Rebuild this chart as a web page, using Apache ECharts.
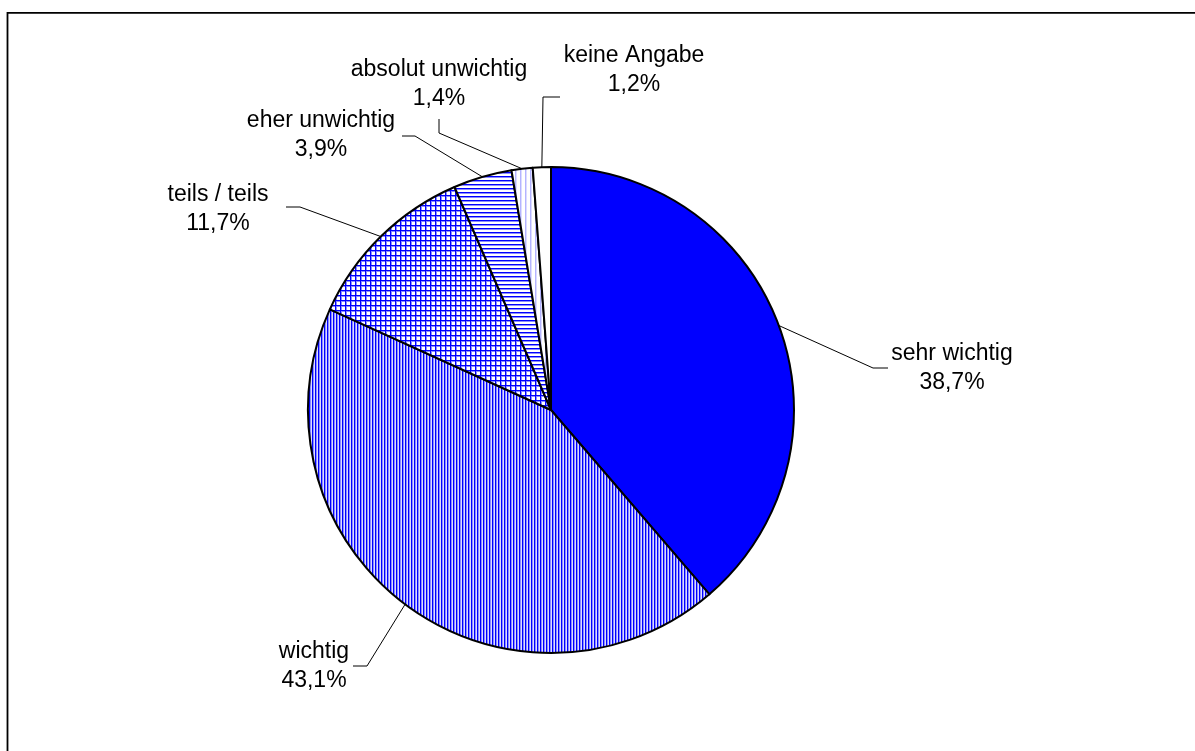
<!DOCTYPE html>
<html>
<head>
<meta charset="utf-8">
<script src="https://cdn.jsdelivr.net/npm/echarts@6/dist/echarts.min.js"></script>
<style>
html,body{margin:0;padding:0;background:#fff;}
#chart{width:1195px;height:751px;}
</style>
</head>
<body>
<div id="chart"></div>
<script>
// ---- data ----
const categories = ['sehr wichtig', 'wichtig', 'teils / teils', 'eher unwichtig', 'absolut unwichtig', 'keine Angabe'];
const values = [38.7, 43.1, 11.7, 3.9, 1.4, 1.2];
const valueLabels = ['38,7%', '43,1%', '11,7%', '3,9%', '1,4%', '1,2%'];

// ---- label placement (text annotations) ----
const labelCenters = [[952, 368], [314, 666], [218, 209], [321, 135], [439, 84], [634, 70]];
const lineElbows = [[873, 368], [367, 666], [300, 207], [415, 136], [439, 133], [543, 97]];
const lineEnds = [[888, 368], [353, 666], [286, 207], [402, 136], [439, 119], [560, 97]];

function makePattern(w, h, draw) {
  const c = document.createElement('canvas');
  c.width = w; c.height = h;
  const ctx = c.getContext('2d');
  ctx.fillStyle = '#ffffff';
  ctx.fillRect(0, 0, w, h);
  draw(ctx);
  return { image: c, repeat: 'repeat' };
}
const BLUE = '#0000ff';
const LIGHT = '#8c8cff';
const PALE = '#dcdcff';
const patVertical = makePattern(3, 3, ctx => {
  ctx.fillStyle = BLUE; ctx.fillRect(0, 0, 1, 3);
  ctx.fillStyle = LIGHT; ctx.fillRect(1, 0, 1, 3);
  ctx.fillStyle = PALE; ctx.fillRect(2, 0, 1, 3);
});
const patGrid = makePattern(5, 5, ctx => {
  ctx.fillStyle = LIGHT; ctx.fillRect(1, 0, 1, 5); ctx.fillRect(0, 1, 5, 1);
  ctx.fillStyle = BLUE; ctx.fillRect(0, 0, 1, 5); ctx.fillRect(0, 0, 5, 1);
});
const patHorizontal = makePattern(4, 4, ctx => {
  ctx.fillStyle = BLUE; ctx.fillRect(0, 0, 4, 1);
  ctx.fillStyle = LIGHT; ctx.fillRect(0, 1, 4, 1);
});
const patLightVertical = makePattern(5, 5, ctx => {
  ctx.fillStyle = '#b4b4ff'; ctx.fillRect(0, 0, 1, 5);
  ctx.fillStyle = '#dcdcff'; ctx.fillRect(1, 0, 1, 5);
});
const fills = [BLUE, patVertical, patGrid, patHorizontal, patLightVertical, '#ffffff'];

const chart = echarts.init(document.getElementById('chart'), null, { renderer: 'canvas' });
chart.setOption({
  animation: false,
  backgroundColor: '#ffffff',
  graphic: [{
    type: 'rect',
    shape: { x: 7.5, y: 12.8, width: 1300, height: 900 },
    style: { fill: 'none', stroke: '#000', lineWidth: 1.8 },
    silent: true
  }],
  series: [{
    type: 'pie',
    center: [551, 410],
    radius: 243,
    startAngle: 90,
    clockwise: true,
    avoidLabelOverlap: false,
    data: categories.map((n, i) => ({
      name: n,
      value: values[i],
      itemStyle: { color: fills[i] }
    })),
    itemStyle: { borderColor: '#000', borderWidth: 2 },
    label: {
      show: true,
      position: 'outside',
      formatter: p => p.name + '\n' + valueLabels[p.dataIndex],
      fontFamily: '"Liberation Sans", Arial, sans-serif',
      fontSize: 23,
      lineHeight: 28.5,
      color: '#000',
      align: 'center'
    },
    labelLine: {
      show: true,
      length: 20,
      length2: 15,
      lineStyle: { color: '#000', width: 1 }
    },
    labelLayout: function (params) {
      const i = params.dataIndex;
      const pts = params.labelLinePoints;
      const start = pts && pts[0] ? pts[0] : lineElbows[i];
      return {
        x: labelCenters[i][0],
        y: labelCenters[i][1],
        align: 'center',
        verticalAlign: 'middle',
        labelLinePoints: [start, lineElbows[i], lineEnds[i]]
      };
    },
    emphasis: { disabled: true }
  }]
});
</script>
</body>
</html>
